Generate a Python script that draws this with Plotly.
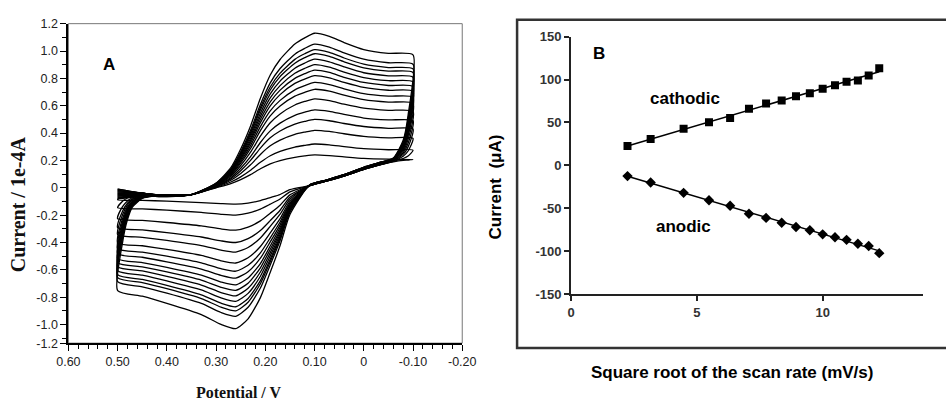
import numpy as np
import plotly.graph_objects as go

# ---------------- Panel A : cyclic voltammograms (current / 1e-4 A) ----------------
CV_X_UP = [0.50, 0.45, 0.40, 0.35, 0.30, 0.27, 0.25, 0.23, 0.21, 0.19, 0.17, 0.14, 0.12, 0.10, 0.07, 0.04, 0.00, -0.05, -0.10]
CV_X_LOW = [-0.09, -0.08, -0.06, -0.03, 0.00, 0.04, 0.08, 0.11, 0.15, 0.17, 0.19, 0.21, 0.235, 0.26, 0.29, 0.33, 0.40, 0.45, 0.50]
CV_X_RET = [0.49, 0.48, 0.47, 0.45, 0.42, 0.38]

CV_UP = [
    [-0.01, -0.04, -0.06, -0.05, 0.000, 0.031, 0.060, 0.096, 0.139, 0.175, 0.199, 0.223, 0.233, 0.240, 0.235, 0.226, 0.215, 0.209, 0.206],
    [-0.01, -0.04, -0.06, -0.05, 0.003, 0.042, 0.080, 0.128, 0.186, 0.234, 0.266, 0.298, 0.310, 0.320, 0.314, 0.301, 0.286, 0.278, 0.275],
    [-0.02, -0.04, -0.06, -0.05, 0.007, 0.055, 0.105, 0.168, 0.244, 0.307, 0.349, 0.391, 0.407, 0.420, 0.412, 0.395, 0.376, 0.365, 0.361],
    [-0.02, -0.04, -0.06, -0.05, 0.010, 0.065, 0.125, 0.200, 0.290, 0.365, 0.415, 0.465, 0.485, 0.500, 0.490, 0.470, 0.448, 0.435, 0.430],
    [-0.03, -0.04, -0.06, -0.05, 0.013, 0.074, 0.143, 0.228, 0.331, 0.416, 0.473, 0.530, 0.553, 0.570, 0.559, 0.536, 0.510, 0.496, 0.490],
    [-0.03, -0.04, -0.06, -0.05, 0.016, 0.085, 0.163, 0.260, 0.377, 0.475, 0.540, 0.605, 0.631, 0.650, 0.637, 0.611, 0.582, 0.566, 0.559],
    [-0.04, -0.04, -0.06, -0.05, 0.019, 0.094, 0.180, 0.288, 0.418, 0.526, 0.598, 0.670, 0.698, 0.720, 0.706, 0.677, 0.644, 0.626, 0.619],
    [-0.04, -0.04, -0.06, -0.05, 0.021, 0.100, 0.193, 0.308, 0.447, 0.562, 0.639, 0.716, 0.747, 0.770, 0.755, 0.724, 0.689, 0.670, 0.662],
    [-0.05, -0.045, -0.06, -0.05, 0.023, 0.107, 0.205, 0.328, 0.476, 0.599, 0.681, 0.763, 0.795, 0.820, 0.804, 0.771, 0.734, 0.713, 0.705],
    [-0.05, -0.045, -0.06, -0.05, 0.024, 0.112, 0.215, 0.344, 0.499, 0.628, 0.714, 0.800, 0.834, 0.860, 0.843, 0.808, 0.770, 0.748, 0.740],
    [-0.06, -0.05, -0.06, -0.05, 0.026, 0.117, 0.225, 0.360, 0.522, 0.657, 0.747, 0.837, 0.873, 0.900, 0.882, 0.846, 0.806, 0.783, 0.774],
    [-0.06, -0.05, -0.06, -0.05, 0.028, 0.122, 0.235, 0.376, 0.545, 0.686, 0.780, 0.874, 0.912, 0.940, 0.921, 0.884, 0.841, 0.818, 0.808],
    [-0.07, -0.055, -0.06, -0.05, 0.029, 0.127, 0.245, 0.392, 0.568, 0.715, 0.813, 0.911, 0.951, 0.980, 0.960, 0.921, 0.877, 0.853, 0.843],
    [-0.07, -0.055, -0.06, -0.05, 0.030, 0.131, 0.253, 0.404, 0.586, 0.737, 0.838, 0.939, 0.980, 1.010, 0.990, 0.949, 0.904, 0.879, 0.869],
    [-0.08, -0.06, -0.065, -0.05, 0.032, 0.137, 0.263, 0.420, 0.609, 0.767, 0.872, 0.977, 1.019, 1.050, 1.029, 0.987, 0.940, 0.914, 0.903],
    [-0.08, -0.06, -0.065, -0.05, 0.035, 0.147, 0.283, 0.452, 0.655, 0.825, 0.938, 1.051, 1.096, 1.130, 1.107, 1.062, 1.011, 0.983, 0.972],
]

CV_LOW = [
    [0.203, 0.201, 0.190, 0.165, 0.135, 0.085, 0.045, 0.015, -0.014, -0.049, -0.072, -0.094, -0.112, -0.120, -0.116, -0.108, -0.098, -0.092, -0.088],
    [0.232, 0.214, 0.193, 0.165, 0.135, 0.085, 0.045, 0.015, -0.030, -0.082, -0.120, -0.156, -0.186, -0.200, -0.194, -0.180, -0.164, -0.154, -0.146],
    [0.269, 0.231, 0.196, 0.165, 0.135, 0.085, 0.045, 0.015, -0.052, -0.127, -0.186, -0.242, -0.288, -0.310, -0.301, -0.279, -0.254, -0.239, -0.226],
    [0.299, 0.244, 0.198, 0.165, 0.135, 0.085, 0.045, 0.015, -0.070, -0.164, -0.240, -0.312, -0.372, -0.400, -0.388, -0.360, -0.328, -0.308, -0.292],
    [0.325, 0.255, 0.200, 0.170, 0.140, 0.088, 0.047, 0.016, -0.084, -0.193, -0.282, -0.367, -0.437, -0.470, -0.456, -0.423, -0.385, -0.362, -0.343],
    [0.354, 0.268, 0.203, 0.170, 0.140, 0.088, 0.047, 0.016, -0.100, -0.226, -0.330, -0.429, -0.512, -0.550, -0.534, -0.495, -0.451, -0.424, -0.402],
    [0.380, 0.280, 0.205, 0.170, 0.140, 0.088, 0.047, 0.016, -0.112, -0.250, -0.366, -0.476, -0.567, -0.610, -0.592, -0.549, -0.500, -0.470, -0.445],
    [0.399, 0.288, 0.206, 0.170, 0.140, 0.088, 0.047, 0.016, -0.122, -0.271, -0.396, -0.515, -0.614, -0.660, -0.640, -0.594, -0.541, -0.508, -0.482],
    [0.417, 0.296, 0.208, 0.175, 0.145, 0.092, 0.050, 0.018, -0.132, -0.291, -0.426, -0.554, -0.660, -0.710, -0.689, -0.639, -0.582, -0.547, -0.518],
    [0.432, 0.303, 0.209, 0.175, 0.145, 0.092, 0.050, 0.018, -0.140, -0.308, -0.450, -0.585, -0.698, -0.750, -0.728, -0.675, -0.615, -0.578, -0.548],
    [0.447, 0.309, 0.210, 0.175, 0.145, 0.092, 0.050, 0.018, -0.148, -0.324, -0.474, -0.616, -0.735, -0.790, -0.766, -0.711, -0.648, -0.608, -0.577],
    [0.461, 0.316, 0.211, 0.175, 0.145, 0.092, 0.050, 0.018, -0.156, -0.340, -0.498, -0.647, -0.772, -0.830, -0.805, -0.747, -0.681, -0.639, -0.606],
    [0.476, 0.322, 0.213, 0.182, 0.150, 0.096, 0.053, 0.020, -0.164, -0.357, -0.522, -0.679, -0.809, -0.870, -0.844, -0.783, -0.713, -0.670, -0.635],
    [0.488, 0.327, 0.213, 0.182, 0.150, 0.096, 0.053, 0.020, -0.170, -0.369, -0.540, -0.702, -0.837, -0.900, -0.873, -0.810, -0.738, -0.693, -0.657],
    [0.502, 0.334, 0.215, 0.182, 0.150, 0.096, 0.053, 0.020, -0.178, -0.385, -0.564, -0.733, -0.874, -0.940, -0.912, -0.846, -0.771, -0.724, -0.686],
    [0.532, 0.347, 0.217, 0.182, 0.150, 0.096, 0.053, 0.020, -0.196, -0.422, -0.618, -0.803, -0.958, -1.030, -0.999, -0.927, -0.845, -0.793, -0.752],
]

CV_RET = [
    [-0.069, -0.060, -0.055, -0.052, -0.050, -0.050],
    [-0.098, -0.075, -0.062, -0.054, -0.051, -0.050],
    [-0.138, -0.096, -0.073, -0.057, -0.052, -0.050],
    [-0.171, -0.113, -0.081, -0.060, -0.052, -0.050],
    [-0.197, -0.126, -0.088, -0.062, -0.053, -0.050],
    [-0.226, -0.142, -0.096, -0.064, -0.054, -0.050],
    [-0.248, -0.153, -0.101, -0.066, -0.054, -0.050],
    [-0.266, -0.162, -0.106, -0.067, -0.054, -0.050],
    [-0.284, -0.172, -0.111, -0.069, -0.055, -0.050],
    [-0.299, -0.179, -0.115, -0.070, -0.055, -0.050],
    [-0.314, -0.187, -0.119, -0.071, -0.055, -0.050],
    [-0.328, -0.195, -0.122, -0.072, -0.056, -0.050],
    [-0.343, -0.202, -0.126, -0.073, -0.056, -0.050],
    [-0.354, -0.208, -0.129, -0.074, -0.056, -0.050],
    [-0.368, -0.215, -0.133, -0.075, -0.056, -0.050],
    [-0.401, -0.233, -0.141, -0.078, -0.057, -0.050],
]

A_XTICKS = [0.6, 0.5, 0.4, 0.3, 0.2, 0.1, 0.0, -0.1, -0.2]
A_XTICKTEXT = ["0.60", "0.50", "0.40", "0.30", "0.20", "0.10", "0", "-0.10", "-0.20"]
A_YTICKS = [1.2, 1.0, 0.8, 0.6, 0.4, 0.2, 0.0, -0.2, -0.4, -0.6, -0.8, -1.0, -1.136]
A_YTICKTEXT = ["1.2", "1.0", "0.8", "0.6", "0.4", "0.2", "0", "-0.2", "-0.4", "-0.6", "-0.8", "-1.0", "-1.2"]

# ---------------- Panel B : peak current vs square root of scan rate ----------------
SQRT_RATE = [2.24, 3.16, 4.47, 5.48, 6.32, 7.07, 7.75, 8.37, 8.94, 9.49, 10.0, 10.49, 10.95, 11.40, 11.83, 12.25]
CATHODIC = [22.5, 30.7, 42.7, 50.2, 55.1, 66.0, 72.0, 75.7, 80.6, 84.0, 89.2, 93.4, 97.5, 99.0, 104.6, 113.2]
ANODIC = [-12.4, -19.9, -31.9, -40.5, -46.9, -56.2, -61.1, -66.7, -71.6, -75.4, -80.2, -83.6, -86.6, -91.1, -93.7, -102.1]
B_XTICKS = [0, 5, 10]
B_YTICKS = [150, 100, 50, 0, -50, -100, -150]
B_YTICKTEXT = ["150", "100", "50", "0", "-50", "-100", "-150"]

fig = go.Figure()

for up, low, ret in zip(CV_UP, CV_LOW, CV_RET):
    xs = CV_X_UP + CV_X_LOW + CV_X_RET + [0.35]
    ys = up + low + ret + [up[3]]
    fig.add_trace(go.Scatter(x=xs, y=ys, mode="lines", xaxis="x", yaxis="y",
                             line=dict(color="black", width=1.3, shape="spline", smoothing=0.6),
                             showlegend=False, hoverinfo="skip"))

# Panel B
sr = np.array(SQRT_RATE)
for vals, sym in [(CATHODIC, "square"), (ANODIC, "diamond")]:
    k, b = np.polyfit(sr, np.array(vals), 1)
    fig.add_trace(go.Scatter(x=[sr[0], sr[-1]], y=[k * sr[0] + b, k * sr[-1] + b], mode="lines",
                             xaxis="x2", yaxis="y2", line=dict(color="black", width=1.5),
                             showlegend=False, hoverinfo="skip"))
    fig.add_trace(go.Scatter(x=SQRT_RATE, y=vals, mode="markers", xaxis="x2", yaxis="y2",
                             marker=dict(symbol=sym, size=8, color="black"),
                             showlegend=False))

tickfontA = dict(family="Liberation Sans Narrow, Arial Narrow, Liberation Sans, sans-serif", size=12.5, color="#222")
tickfontB = dict(family="Liberation Sans, Arial, sans-serif", size=13, color="#333", weight="bold")


def ann(text, x, y, xref="paper", yref="paper", size=17, family="Liberation Sans, Arial, sans-serif",
        angle=0, color="black"):
    return dict(text=text, x=x, y=y, xref=xref, yref=yref, showarrow=False, textangle=angle,
                xanchor="center", yanchor="middle",
                font=dict(family=family, size=size, color=color, weight="bold"))


SERIF = "Liberation Serif, Times New Roman, serif"

fig.update_layout(
    width=946, height=407,
    margin=dict(l=0, r=0, t=0, b=0),
    paper_bgcolor="white", plot_bgcolor="white",
    xaxis=dict(domain=[0.0613, 0.4894], range=[0.6, -0.2], anchor="y",
               tickmode="array", tickvals=A_XTICKS, ticktext=A_XTICKTEXT,
               ticks="outside", ticklen=6, tickwidth=1, tickcolor="black",
               minor=dict(dtick=0.02, tick0=0, ticks="outside", ticklen=4, tickcolor="black"),
               showline=True, linewidth=2, linecolor="black", showgrid=False, zeroline=False,
               tickfont=tickfontA),
    yaxis=dict(domain=[0.1425, 0.9575], range=[-1.136, 1.2], anchor="x",
               tickmode="array", tickvals=A_YTICKS, ticktext=A_YTICKTEXT,
               ticks="outside", ticklen=6, tickwidth=1, tickcolor="black",
               minor=dict(dtick=0.1, tick0=0, ticks="outside", ticklen=4, tickcolor="black"),
               showline=True, linewidth=2, linecolor="black", showgrid=False, zeroline=False,
               tickfont=tickfontA),
    xaxis2=dict(domain=[0.6078, 0.9905], range=[0, 14], anchor="y2",
                tickmode="array", tickvals=B_XTICKS,
                ticks="outside", ticklen=5, tickwidth=1.5, tickcolor="#222",
                showline=True, linewidth=2, linecolor="#222", showgrid=False, zeroline=False,
                tickfont=tickfontB),
    yaxis2=dict(domain=[0.2671, 0.9246], range=[-150, 150], anchor="x2",
                tickmode="array", tickvals=B_YTICKS, ticktext=B_YTICKTEXT,
                ticks="outside", ticklen=5, tickwidth=1.5, tickcolor="#222",
                showline=True, linewidth=2, linecolor="#222", showgrid=False, zeroline=False,
                tickfont=tickfontB),
    shapes=[
        dict(type="rect", xref="paper", yref="paper", x0=0.0613, x1=0.4894, y0=0.1425, y1=0.9575,
             line=dict(color="#777", width=1), layer="below"),
        dict(type="rect", xref="paper", yref="paper", x0=0.549, x1=1.02, y0=0.1302, y1=0.9673,
             line=dict(color="#333", width=2.5)),
    ],
    annotations=[
        ann("A", 0.517, 0.9, "x", "y"),
        ann("Current / 1e-4A", 7 / 946, 1 - 205 / 407, size=20, family=SERIF, angle=-90, color="#111"),
        ann("Potential / V", 233 / 946, 1 - 400 / 407, size=16, family=SERIF, color="#111"),
        ann("B", 1.1, 130, "x2", "y2"),
        ann("cathodic", 4.52, 78, "x2", "y2"),
        ann("anodic", 4.48, -71, "x2", "y2"),
        ann("Current  (μA)", 497 / 946, 1 - 187 / 407, angle=-90),
        ann("Square root of the scan rate (mV/s)", 740 / 946, 1 - 380 / 407),
    ],
)

fig.write_html("out.html")
